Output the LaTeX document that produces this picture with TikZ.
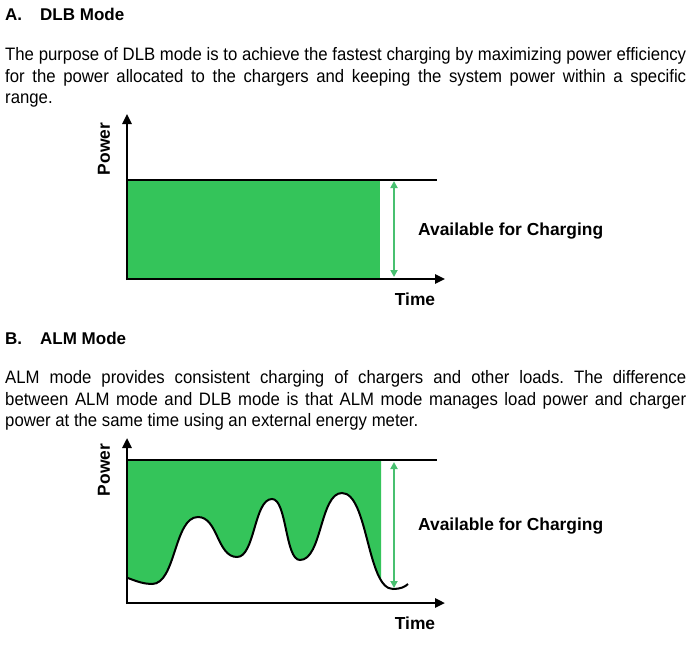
\documentclass[tikz,border=0pt]{standalone}
\usepackage{fontspec}
\setmainfont{Liberation Sans}
\newfontfamily\bodyfont[FakeStretch=0.93]{Liberation Sans}
\usetikzlibrary{arrows.meta}
\definecolor{chg}{RGB}{52,196,90}
\definecolor{arr}{RGB}{72,192,112}
\frenchspacing
\begin{document}
\begin{tikzpicture}[x=1pt,y=-1pt,
  head/.style={inner sep=0,anchor=base west,font=\fontsize{17}{19}\selectfont\bfseries},
  body/.style={inner sep=0,anchor=base west,font=\bodyfont\fontsize{18}{22}\selectfont},
  lbl/.style={inner sep=0,font=\fontsize{17.4}{19}\selectfont\bfseries},
  axis/.style={line width=2.4pt,-{Triangle[length=10pt,width=9pt]}},
  level/.style={line width=2pt},
  span/.style={arr,line width=2pt,{Triangle[length=7pt,width=7pt]}-{Triangle[length=7pt,width=7pt]}},
  curve/.style={line width=2pt}]
\useasboundingbox (0,0) rectangle (691,648);
\fill[white] (0,0) rectangle (691,648);
% ---------- Section A text
\node[head] (ha) at (5,20) {A.};
\node[head] (hat) at (40,20) {DLB Mode};
\node[body] (a1) at (5,60) {\makebox[681pt][s]{The purpose of DLB mode is to achieve the fastest charging by maximizing power efficiency}};
\node[body] (a2) at (5,82) {\makebox[681pt][s]{for the power allocated to the chargers and keeping the system power within a specific}};
\node[body] (a3) at (5,103.5) {range.};
% ---------- Chart A
\fill[chg] (128,180) rectangle (380,278);
\coordinate (aO) at (127,279);
\coordinate (aY) at (127,114);
\coordinate (aX) at (445,279);
\coordinate (aL1) at (127,180);
\coordinate (aL2) at (437,180);
\coordinate (aS1) at (394,181);
\coordinate (aS2) at (394,277);
\draw[level] (aL1) -- (aL2);
\draw[axis] ([yshift=-1.2pt]aO) -- (aY);
\draw[axis] ([xshift=-1.2pt]aO) -- (aX);
\draw[span] (aS1) -- (aS2);
\node[lbl,rotate=90] (apw) at (104,149) {Power};
\node[lbl] (atm) at (415,299) {Time};
\node[lbl,anchor=west] (aav) at (418,231) {Available for Charging};
% ---------- Section B text
\node[head] (hb) at (5,344) {B.};
\node[head] (hbt) at (40,344) {ALM Mode};
\node[body] (b1) at (5,383.5) {\makebox[681pt][s]{ALM mode provides consistent charging of chargers and other loads. The difference}};
\node[body] (b2) at (5,405) {\makebox[681pt][s]{between ALM mode and DLB mode is that ALM mode manages load power and charger}};
\node[body] (b3) at (5,426.5) {power at the same time using an external energy meter.};
% ---------- Chart B
\def\loadcurve{(128,578) .. controls (138,582) and (145,584) .. (152,584)
  .. controls (176,584) and (174,517) .. (198,517)
  .. controls (218,517) and (217,557) .. (237,557)
  .. controls (255,557) and (254,499) .. (272,499)
  .. controls (287,499) and (285,560) .. (300,560)
  .. controls (322,560) and (320,493) .. (342,493)
  .. controls (368,493) and (367,589) .. (393,589)
  .. controls (400,589) and (405,587) .. (408,584)}
\begin{scope}
\clip (128,460) rectangle (381,603);
\fill[chg] (128,460) -- \loadcurve -- (408,460) -- cycle;
\end{scope}
\draw[curve] \loadcurve;
\coordinate (bO) at (127,603);
\coordinate (bY) at (127,438);
\coordinate (bX) at (445,603);
\coordinate (bL1) at (127,460);
\coordinate (bL2) at (437,460);
\coordinate (bS1) at (394,462);
\coordinate (bS2) at (394,588);
\draw[level] (bL1) -- (bL2);
\draw[axis] ([yshift=-1.2pt]bO) -- (bY);
\draw[axis] ([xshift=-1.2pt]bO) -- (bX);
\draw[span] (bS1) -- (bS2);
\node[lbl,rotate=90] (bpw) at (104,470) {Power};
\node[lbl] (btm) at (415,623) {Time};
\node[lbl,anchor=west] (bav) at (418,526) {Available for Charging};
\end{tikzpicture}
\end{document}
